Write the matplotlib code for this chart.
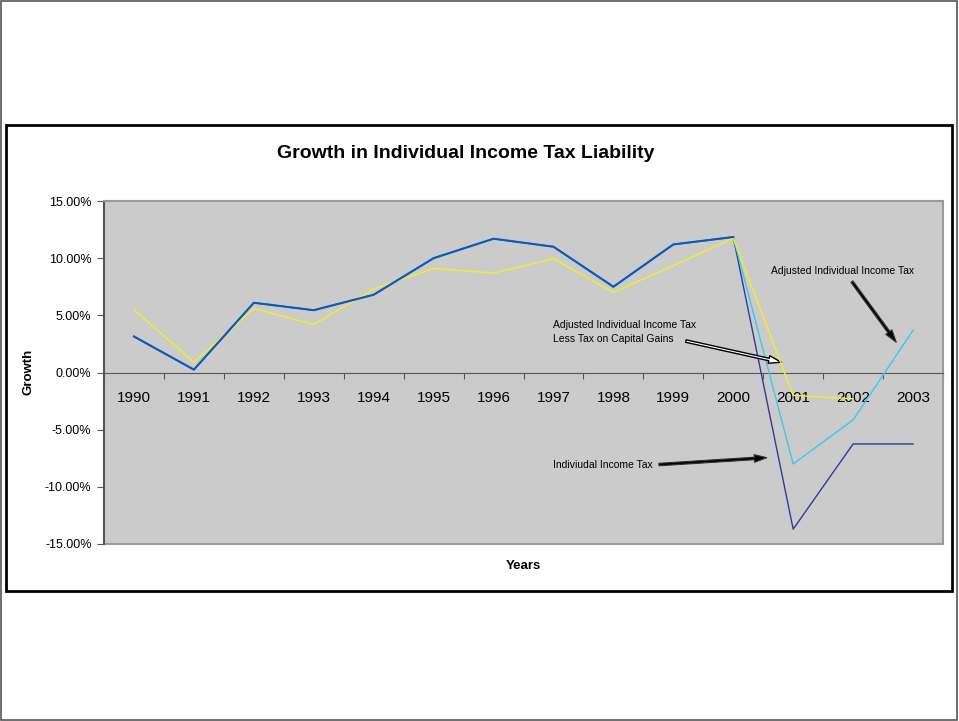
import numpy as np
import matplotlib
matplotlib.use('Agg')
import matplotlib.pyplot as plt
from matplotlib.patches import Rectangle

plt.rcParams['font.family'] = ['Liberation Sans', 'DejaVu Sans']

# Данные: рост обязательств по подоходному налогу, %
years = ['1990', '1991', '1992', '1993', '1994', '1995', '1996',
         '1997', '1998', '1999', '2000', '2001', '2002', '2003']
individual = [3.15, 0.25, 6.1, 5.45, 6.8, 10.0, 11.7,
              11.0, 7.5, 11.2, 11.85, -13.7, -6.25, -6.25]
adjusted = [3.15, 0.25, 6.1, 5.45, 6.8, 10.0, 11.7,
            11.0, 7.5, 11.2, 11.85, -8.0, -4.15, 3.7]
adjusted_less_cg = [5.5, 0.9, 5.6, 4.2, 7.3, 9.1, 8.7,
                    9.95, 7.0, 9.35, 11.75, -2.0, -2.3, np.nan]

x = np.arange(len(years))
ind = np.array(individual)
adj = np.array(adjusted)
same = ind == adj

fig = plt.figure(figsize=(9.59, 7.21), dpi=100)

# рамки страницы и диаграммы
fig.patches.append(Rectangle((0.001, 0.001), 0.997, 0.997, transform=fig.transFigure,
                             fill=False, ec='#555555', lw=1.2))
fig.patches.append(Rectangle((6 / 959, 1 - 591 / 721), 946 / 959, 466 / 721,
                             transform=fig.transFigure, fill=False, ec='black', lw=2))

ax = fig.add_axes([104 / 959, 1 - 544 / 721, 839 / 959, 343 / 721])
ax.set_facecolor('#cbcbcb')

ax.plot(x, individual, color='#34399e', lw=1.0, zorder=3)
ax.plot(x, adjusted, color='#3cc8ec', lw=1.0, zorder=3)
ax.plot(x, adjusted_less_cg, color='#f2ee2a', lw=1.0, zorder=4)
# общий участок двух первых рядов
ax.plot(x[same], ind[same], color='#0b5ab8', lw=1.5, zorder=5)

ax.set_xlim(-0.5, len(years) - 0.5)
ax.set_ylim(-15, 15)

ax.spines['bottom'].set_position(('data', 0))
ax.spines['bottom'].set_color('#555555')
ax.spines['left'].set_color('#555555')
ax.spines['left'].set_linewidth(1.5)
for s in ['top', 'right']:
    ax.spines[s].set_color('#9a9a9a')
    ax.spines[s].set_linewidth(1.5)

ax.set_xticks(np.arange(-0.5, len(years), 1.0))
ax.set_xticklabels([])
ax.set_xticks(x, minor=True)
ax.set_xticklabels(years, minor=True, fontsize=11)
ax.tick_params(axis='x', which='major', direction='out', length=4, color='#555555')
ax.tick_params(axis='x', which='minor', length=0, pad=13)

ax.set_yticks(np.arange(-15, 16, 5))
ax.set_yticklabels(['%.2f%%' % v for v in np.arange(-15, 16, 5)], fontsize=9)
ax.tick_params(axis='y', direction='out', length=5, color='#555555', pad=4)

# рамка области построения снизу
ax.plot([0, 1], [0, 0], transform=ax.transAxes, color='#9a9a9a', lw=1.5, clip_on=False)

fig.text(466 / 959, 1 - 153 / 721, 'Growth in Individual Income Tax Liability',
         ha='center', va='center', fontsize=14, fontweight='bold')
fig.text(523 / 959, 1 - 566 / 721, 'Years', ha='center', va='center',
         fontsize=9.5, fontweight='bold')
fig.text(29 / 959, 1 - 372 / 721, 'Growth', ha='center', va='center',
         rotation=90, fontsize=9.5, fontweight='bold')

style = 'simple,head_width=0.55,head_length=0.9,tail_width=0.18'
arrow_dark = dict(arrowstyle=style, fc='black', ec='#333333', lw=0.8, shrinkA=0, shrinkB=0)
arrow_light = dict(arrowstyle=style, fc='white', ec='black', lw=1.0, shrinkA=0, shrinkB=0)

ax.text(10.63, 8.9, 'Adjusted Individual Income Tax', fontsize=7.5,
        ha='left', va='center')
ax.annotate('', xy=(12.72, 2.65), xytext=(11.98, 7.95), arrowprops=arrow_dark)

ax.text(7.0, 3.55, 'Adjusted Individual Income Tax\nLess Tax on Capital Gains',
        fontsize=7.5, ha='left', va='center', linespacing=1.6)
ax.annotate('', xy=(10.8, 0.9), xytext=(9.21, 2.75), arrowprops=arrow_light)

ax.text(7.0, -8.1, 'Indiviudal Income Tax', fontsize=7.5, ha='left', va='center')
ax.annotate('', xy=(10.56, -7.45), xytext=(8.76, -8.05), arrowprops=arrow_dark)

plt.savefig('out.png', dpi=100)
plt.close()
